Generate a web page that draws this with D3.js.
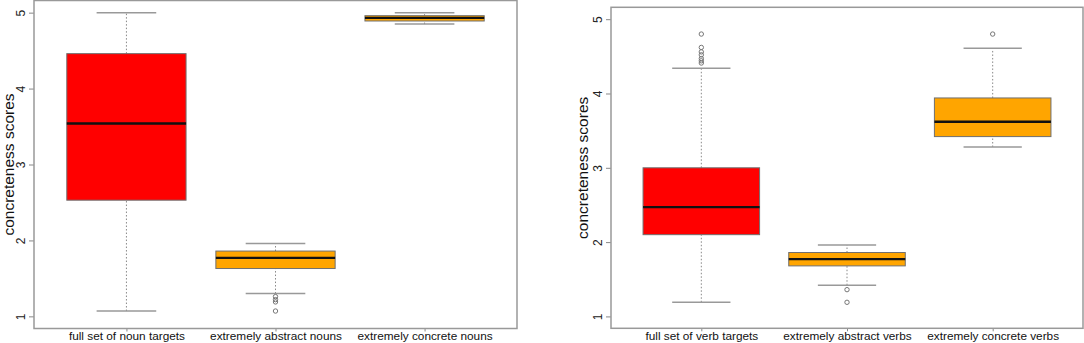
<!DOCTYPE html>
<html>
<head>
<meta charset="utf-8">
<script src="https://cdn.jsdelivr.net/npm/d3@7"></script>
<style>
  body { margin: 0; background: #fff; }
  text { font-family: "Liberation Sans", Arial, sans-serif; }
</style>
</head>
<body>
<svg id="chart" width="1084" height="343"></svg>
<script>
// noun panel
let nounCats = ["full set of noun targets", "extremely abstract nouns", "extremely concrete nouns"];
let nounLow  = [1.07, 1.30, 4.85];
let nounQ1   = [2.53, 1.63, 4.89];
let nounMed  = [3.54, 1.77, 4.93];
let nounQ3   = [4.46, 1.86, 4.96];
let nounHigh = [5.00, 1.96, 5.00];
let nounOut  = [[], [1.26, 1.22, 1.19, 1.07], []];

// verb panel
let verbCats = ["full set of verb targets", "extremely abstract verbs", "extremely concrete verbs"];
let verbLow  = [1.19, 1.42, 3.28];
let verbQ1   = [2.10, 1.68, 3.42];
let verbMed  = [2.47, 1.77, 3.62];
let verbQ3   = [3.00, 1.86, 3.94];
let verbHigh = [4.34, 1.96, 4.61];
let verbOut  = [[4.80, 4.62, 4.56, 4.52, 4.47, 4.44, 4.41], [1.36, 1.19], [4.80]];

let boxColors = ["#ff0000", "#ffa500", "#ffa500"];
let yTicks = [1, 2, 3, 4, 5];

let svg = d3.select("#chart");

function drawPanel(cats, low, q1, med, q3, high, outs, box)
{
    let stats = cats.map((c, i) => ({
        cat: c, low: low[i], q1: q1[i], med: med[i], q3: q3[i], high: high[i], out: outs[i], col: boxColors[i]
    }));

    let xScale = d3.scalePoint()
        .domain(cats)
        .range([box.left, box.right])
        .padding(0.62);
    let step = xScale.step();
    let bw = step * 0.8; // box width
    let cw = bw / 2;     // whisker cap width

    let yScale = d3.scaleLinear()
        .domain([0.84, 5.16])
        .range([box.bottom, box.top]);

    let g = svg.append("g");

    // y axis (ticks on left, labels rotated)
    let yAxis = d3.axisLeft(yScale).tickValues(yTicks).tickSize(5).tickPadding(0).tickFormat(d3.format("d"));
    let ya = g.append("g")
        .attr("transform", "translate(" + box.left + ",0)")
        .call(yAxis);
    ya.select(".domain").remove();
    ya.selectAll(".tick line").attr("stroke", "#888");
    ya.selectAll(".tick text")
        .attr("transform", "rotate(-90)")
        .attr("x", 0).attr("y", -9)
        .attr("dy", 0)
        .attr("text-anchor", "middle")
        .attr("fill", "#222")
        .style("font-size", "12px");

    // x axis
    let xAxis = d3.axisBottom(xScale).tickSize(3).tickPadding(0.5);
    let xa = g.append("g")
        .attr("transform", "translate(0," + box.bottom + ")")
        .call(xAxis);
    xa.select(".domain").remove();
    xa.selectAll(".tick line").attr("stroke", "#888");
    xa.selectAll(".tick text")
        .attr("fill", "#111")
        .style("font-size", "11.8px");

    // axis title
    g.append("text")
        .attr("transform", "translate(" + box.labelX + "," + (box.top + box.bottom) / 2 + ") rotate(-90)")
        .attr("text-anchor", "middle")
        .attr("dy", "0.35em")
        .attr("fill", "#111")
        .style("font-size", "15.5px")
        .text("concreteness scores");

    let b = g.selectAll(".bx").data(stats).enter().append("g").attr("class", "bx");

    // whiskers (dotted)
    b.append("line")
        .attr("x1", d => xScale(d.cat)).attr("x2", d => xScale(d.cat))
        .attr("y1", d => yScale(d.low)).attr("y2", d => yScale(d.q1))
        .attr("stroke", "#888").attr("stroke-dasharray", "1.5,2");
    b.append("line")
        .attr("x1", d => xScale(d.cat)).attr("x2", d => xScale(d.cat))
        .attr("y1", d => yScale(d.q3)).attr("y2", d => yScale(d.high))
        .attr("stroke", "#888").attr("stroke-dasharray", "1.5,2");
    // caps
    b.append("line")
        .attr("x1", d => xScale(d.cat) - cw / 2).attr("x2", d => xScale(d.cat) + cw / 2)
        .attr("y1", d => yScale(d.low)).attr("y2", d => yScale(d.low))
        .attr("stroke", "#999").attr("stroke-width", 1.5);
    b.append("line")
        .attr("x1", d => xScale(d.cat) - cw / 2).attr("x2", d => xScale(d.cat) + cw / 2)
        .attr("y1", d => yScale(d.high)).attr("y2", d => yScale(d.high))
        .attr("stroke", "#999").attr("stroke-width", 1.5);
    // box
    b.append("rect")
        .attr("x", d => xScale(d.cat) - bw / 2)
        .attr("y", d => yScale(d.q3))
        .attr("width", bw)
        .attr("height", d => yScale(d.q1) - yScale(d.q3))
        .attr("fill", d => d.col)
        .attr("stroke", "#707070").attr("stroke-width", 1);
    // median
    b.append("line")
        .attr("x1", d => xScale(d.cat) - bw / 2).attr("x2", d => xScale(d.cat) + bw / 2)
        .attr("y1", d => yScale(d.med)).attr("y2", d => yScale(d.med))
        .attr("stroke", "#111").attr("stroke-width", 2.3);
    // outliers
    b.selectAll("circle")
        .data(d => d.out.map(v => ({cat: d.cat, v: v})))
        .enter().append("circle")
        .attr("cx", d => xScale(d.cat))
        .attr("cy", d => yScale(d.v))
        .attr("r", 2.2)
        .attr("fill", "none")
        .attr("stroke", "#777").attr("stroke-width", 1);

    // frame
    g.append("rect")
        .attr("x", box.left).attr("y", box.top)
        .attr("width", box.right - box.left).attr("height", box.bottom - box.top)
        .attr("fill", "none").attr("stroke", "#999").attr("stroke-width", 1.5);
}

drawPanel(nounCats, nounLow, nounQ1, nounMed, nounQ3, nounHigh, nounOut,
    {left: 34, right: 517, top: 0.5, bottom: 328.5, labelX: 8.5});
drawPanel(verbCats, verbLow, verbQ1, verbMed, verbQ3, verbHigh, verbOut,
    {left: 611, right: 1083, top: 7.3, bottom: 328.3, labelX: 583});
</script>
</body>
</html>
